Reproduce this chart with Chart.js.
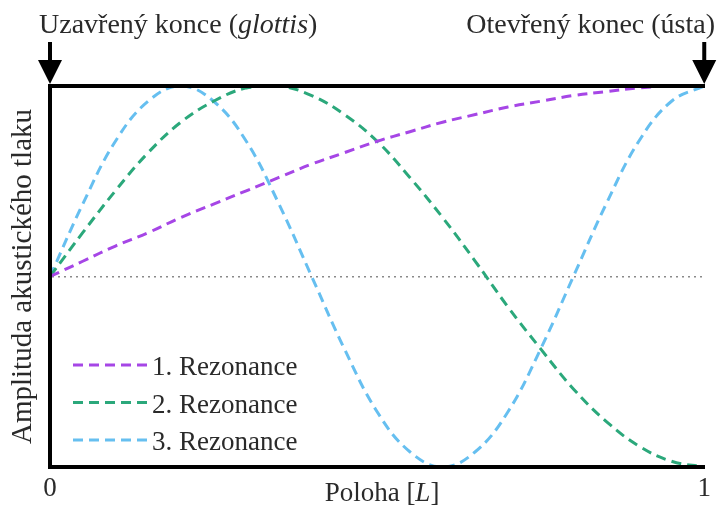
<!DOCTYPE html>
<html>
<head>
<meta charset="utf-8">
<script src="https://cdn.jsdelivr.net/npm/chart.js@4/dist/chart.umd.min.js"></script>
<style>
  html, body { margin: 0; padding: 0; background: #ffffff; }
  #wrap { width: 717px; height: 506px; position: relative; }
</style>
</head>
<body>
<div id="wrap"><canvas id="c" width="717" height="506"></canvas></div>
<script>
// ---- data ----
const positions = [0, 0.05, 0.1, 0.15, 0.2, 0.25, 0.3, 0.35, 0.4, 0.45, 0.5, 0.55, 0.6, 0.65, 0.7, 0.75, 0.8, 0.85, 0.9, 0.95, 1];
const resonance1 = [0, 0.08, 0.16, 0.23, 0.31, 0.38, 0.45, 0.52, 0.59, 0.65, 0.71, 0.76, 0.81, 0.85, 0.89, 0.92, 0.95, 0.97, 0.99, 1.0, 1.0];
const resonance2 = [0, 0.23, 0.45, 0.65, 0.81, 0.92, 0.99, 1.0, 0.95, 0.85, 0.71, 0.52, 0.31, 0.08, -0.16, -0.38, -0.59, -0.76, -0.89, -0.97, -1.0];
const resonance3 = [0, 0.38, 0.71, 0.92, 1.0, 0.92, 0.71, 0.38, 0, -0.38, -0.71, -0.92, -1.0, -0.92, -0.71, -0.38, 0, 0.38, 0.71, 0.92, 1.0];
const seriesLabels = ['1. Rezonance', '2. Rezonance', '3. Rezonance'];
const xTickLabels = ['0', '1'];
const xTitleParts = [['Poloha [', false], ['L', true], [']', false]];
const yTitle = 'Amplituda akustického tlaku';
const leftNote = [['Uzavřený konce (', false], ['glottis', true], [')', false]];
const rightNote = [['Otevřený konec (ústa)', false]];

const FONT = "'Liberation Serif', 'Times New Roman', serif";
const TEXT = '#2a2a2a';
const colors = ['#a646e6', '#2ba87b', '#66bff0'];

function toPoints(ys) { return positions.map((x, i) => ({ x: x, y: ys[i] })); }

function drawParts(ctx, parts, x, y, size, align) {
  ctx.save();
  ctx.fillStyle = TEXT;
  ctx.textBaseline = 'alphabetic';
  ctx.textAlign = 'left';
  let total = 0;
  const widths = parts.map(([t, it]) => {
    ctx.font = (it ? 'italic ' : '') + size + 'px ' + FONT;
    const w = ctx.measureText(t).width; total += w; return w;
  });
  let cx = align === 'right' ? x - total : (align === 'center' ? x - total / 2 : x);
  parts.forEach(([t, it], i) => {
    ctx.font = (it ? 'italic ' : '') + size + 'px ' + FONT;
    ctx.fillText(t, cx, y);
    cx += widths[i];
  });
  ctx.restore();
}

function drawArrow(ctx, x, yTop, yTip) {
  ctx.save();
  ctx.fillStyle = '#000';
  ctx.strokeStyle = '#000';
  ctx.lineWidth = 4;
  ctx.beginPath();
  ctx.moveTo(x, yTop);
  ctx.lineTo(x, yTip - 16);
  ctx.stroke();
  ctx.beginPath();
  ctx.moveTo(x - 12, yTip - 24);
  ctx.lineTo(x + 12, yTip - 24);
  ctx.lineTo(x, yTip);
  ctx.closePath();
  ctx.fill();
  ctx.restore();
}

const decor = {
  id: 'decor',
  afterDraw(chart) {
    const ctx = chart.ctx;
    const xs = chart.scales.x;
    const area = chart.chartArea;
    drawParts(ctx, leftNote, 39, 33, 28, 'left');
    drawParts(ctx, rightNote, 715, 33, 28, 'right');
    drawArrow(ctx, xs.getPixelForValue(0), 42, area.top - 2);
    drawArrow(ctx, xs.getPixelForValue(1), 42, area.top - 2);
    drawParts(ctx, xTitleParts, 382, 501, 27, 'center');
    chart.data.datasets.forEach((ds, i) => {
      const y = 365 + i * 37.5;
      ctx.save();
      ctx.strokeStyle = ds.borderColor;
      ctx.lineWidth = ds.borderWidth;
      ctx.setLineDash(ds.borderDash);
      ctx.beginPath();
      ctx.moveTo(73, y);
      ctx.lineTo(147, y);
      ctx.stroke();
      ctx.restore();
      drawParts(ctx, [[ds.label, false]], 152, y + 10, 27, 'left');
    });
  }
};

new Chart(document.getElementById('c'), {
  type: 'line',
  data: {
    datasets: [
      { label: seriesLabels[0], data: toPoints(resonance1), borderColor: colors[0] },
      { label: seriesLabels[1], data: toPoints(resonance2), borderColor: colors[1] },
      { label: seriesLabels[2], data: toPoints(resonance3), borderColor: colors[2] }
    ].map(d => Object.assign(d, {
      borderWidth: 3, borderDash: [10, 6], pointRadius: 0, fill: false,
      tension: 0.4, borderCapStyle: 'butt'
    }))
  },
  options: {
    responsive: false,
    animation: false,
    layout: { padding: { top: 86, right: 12, left: 0, bottom: 0 } },
    plugins: { legend: { display: false }, tooltip: { enabled: false } },
    scales: {
      x: {
        type: 'linear', position: 'bottom', min: 0, max: 1,
        grid: { display: false, drawTicks: false },
        border: { display: true, color: '#000', width: 4, z: 1 },
        ticks: {
          stepSize: 1, padding: 6, color: TEXT, maxRotation: 0,
          font: { family: FONT, size: 27 },
          callback: (v) => xTickLabels[Math.round(v)]
        },
        afterFit: (s) => { s.height = 39; }
      },
      xTop: {
        type: 'linear', position: 'top', min: 0, max: 1,
        grid: { display: false, drawTicks: false },
        border: { display: true, color: '#000', width: 4, z: 1 },
        ticks: { display: false },
        afterFit: (s) => { s.height = 0; }
      },
      y: {
        type: 'linear', position: 'left', min: -1, max: 1,
        grid: {
          drawTicks: false, lineWidth: 1.5,
          color: (c) => (c.tick && c.tick.value === 0) ? '#8a8a8a' : 'rgba(0,0,0,0)'
        },
        border: { display: true, color: '#000', width: 4, dash: [2, 4], z: 1 },
        ticks: { display: false, stepSize: 1 },
        title: {
          display: true, text: yTitle, color: TEXT,
          font: { family: FONT, size: 29, lineHeight: 1.2 },
          padding: { top: 6, bottom: 0 }
        },
        afterFit: (s) => { s.width = 50; }
      }
    }
  },
  plugins: [decor]
});
</script>
</body>
</html>
